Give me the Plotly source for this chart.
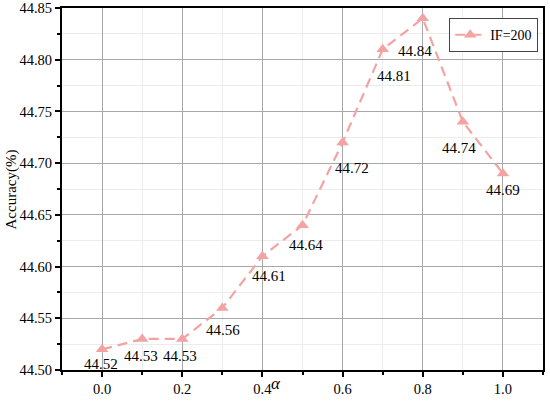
import plotly.graph_objects as go

alpha = [0.0, 0.1, 0.2, 0.3, 0.4, 0.5, 0.6, 0.7, 0.8, 0.9, 1.0]
accuracy = [44.52, 44.53, 44.53, 44.56, 44.61, 44.64, 44.72, 44.81, 44.84, 44.74, 44.69]
labels = ["44.52", "44.53", "44.53", "44.56", "44.61", "44.64", "44.72", "44.81", "44.84", "44.74", "44.69"]
series_name = "IF=200"
x_ticks = [0.0, 0.2, 0.4, 0.6, 0.8, 1.0]
x_tick_text = ["0.0", "0.2", "0.4", "0.6", "0.8", "1.0"]
y_ticks = [44.50, 44.55, 44.60, 44.65, 44.70, 44.75, 44.80, 44.85]
y_tick_text = ["44.50", "44.55", "44.60", "44.65", "44.70", "44.75", "44.80", "44.85"]
y_title = "Accuracy(%)"
x_title = "<i>α</i>"

# label offsets in pixels (dx, dy downward)
label_shift = [(-1, 15), (-1, 17), (-2, 17), (1, 22), (7, 20), (3, 20),
               (9, 26), (11, 27), (-8, 33), (-4, 26), (0, 17)]

FONT = "Liberation Serif, Times New Roman, serif"
COLOR = "#F4A3A3"

fig = go.Figure()
fig.add_trace(go.Scatter(
    x=alpha, y=accuracy, mode="lines+markers", name=series_name,
    line=dict(color=COLOR, width=2.2, dash="10px,6px"),
    marker=dict(symbol="triangle-up", size=11, color=COLOR),
))

for xv, yv, t, (dx, dy) in zip(alpha, accuracy, labels, label_shift):
    fig.add_annotation(x=xv, y=yv, text=t, showarrow=False,
                       xshift=dx, yshift=-dy,
                       font=dict(family=FONT, size=15, color="black"))

fig.add_annotation(xref="paper", yref="paper", x=0.445, y=-0.036, text=x_title,
                   showarrow=False, yanchor="middle",
                   font=dict(family=FONT, size=17, color="black"))
fig.add_annotation(xref="paper", yref="paper", x=-0.105, y=0.5, text=y_title,
                   showarrow=False, textangle=-90, xanchor="center", yanchor="middle",
                   font=dict(family=FONT, size=15, color="black"))

axis_common = dict(
    showline=True, linecolor="black", linewidth=2, mirror=True,
    ticks="outside", ticklen=5, tickwidth=1.5, tickcolor="black",
    showgrid=True, gridcolor="#a8a8a8", gridwidth=1, zeroline=False,
    tickfont=dict(family=FONT, size=14.5, color="black"),
    automargin=False,
)

fig.update_xaxes(
    range=[-0.1, 1.1], tickvals=x_ticks, ticktext=x_tick_text,
    minor=dict(dtick=0.1, tick0=0, ticks="outside", ticklen=3, tickcolor="black",
               showgrid=True, gridcolor="#ececec", gridwidth=1),
    **axis_common,
)
fig.update_yaxes(
    range=[44.50, 44.85], tickvals=y_ticks, ticktext=y_tick_text,
    minor=dict(dtick=0.025, tick0=44.5, ticks="outside", ticklen=3, tickcolor="black",
               showgrid=True, gridcolor="#ececec", gridwidth=1),
    **axis_common,
)

fig.update_layout(
    width=550, height=403,
    margin=dict(l=62, r=7, t=8, b=33),
    plot_bgcolor="white", paper_bgcolor="white",
    showlegend=True,
    legend=dict(x=0.99, y=0.925, xanchor="right", yanchor="middle",
                bgcolor="white", bordercolor="#444", borderwidth=1,
                font=dict(family=FONT, size=14, color="black"),
                itemwidth=30, tracegroupgap=0),
)

fig.write_html("out.html", config={"displayModeBar": False},
               post_script="document.body.style.margin='0';")
